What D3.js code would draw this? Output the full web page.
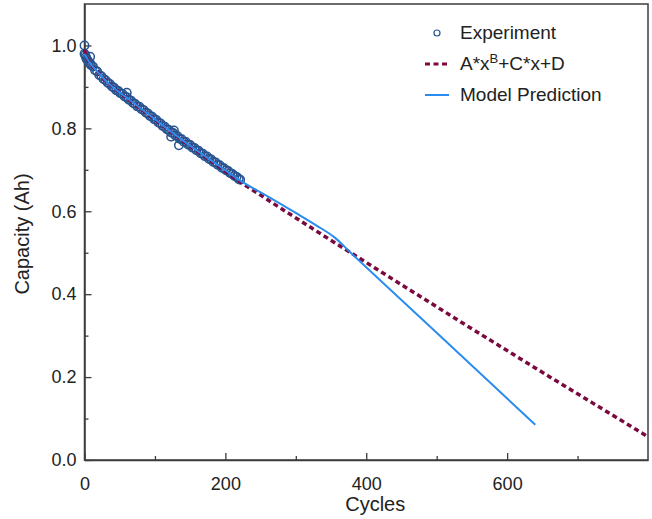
<!DOCTYPE html>
<html>
<head>
<meta charset="utf-8">
<script src="https://cdn.jsdelivr.net/npm/d3@7"></script>
<style>
  body { margin: 0; background: #fff; }
  svg { display: block; font-family: "Liberation Sans", Arial, sans-serif; }
</style>
</head>
<body>
<svg id="chart"></svg>
<script>
const width = 652, height = 519;

// experiment points (cycle, capacity)
const expCycles = [
    0, 0, 1, 2, 3, 4, 6, 8, 8, 9,
    12, 15, 18, 21, 24, 27, 30, 33, 36, 39,
    42, 45, 48, 51, 54, 57, 60, 60, 63, 66,
    69, 72, 75, 78, 81, 84, 87, 90, 93, 96,
    99, 102, 105, 108, 111, 114, 117, 120, 123, 123,
    126, 127, 129, 132, 134, 135, 138, 141, 144, 147,
    150, 153, 156, 159, 162, 165, 168, 171, 174, 177,
    180, 183, 186, 189, 192, 195, 198, 201, 204, 207,
    210, 213, 216, 219, 221];
const expCapacity = [
    1.000, 0.980, 0.977, 0.972, 0.968, 0.965, 0.960, 0.973, 0.957, 0.953,
    0.949, 0.940, 0.937, 0.929, 0.926, 0.919, 0.916, 0.910, 0.907, 0.901,
    0.898, 0.892, 0.890, 0.885, 0.883, 0.877, 0.886, 0.875, 0.869, 0.867,
    0.861, 0.859, 0.853, 0.852, 0.846, 0.844, 0.838, 0.836, 0.830, 0.828,
    0.822, 0.820, 0.814, 0.812, 0.806, 0.804, 0.798, 0.796, 0.780, 0.790,
    0.789, 0.795, 0.783, 0.781, 0.759, 0.775, 0.774, 0.768, 0.767, 0.761,
    0.760, 0.754, 0.753, 0.747, 0.746, 0.740, 0.739, 0.733, 0.732, 0.726,
    0.725, 0.719, 0.718, 0.712, 0.711, 0.705, 0.704, 0.699, 0.697, 0.692,
    0.690, 0.685, 0.683, 0.678, 0.676];

// fitted curve A*x^B+C*x+D
const fitCycles = [0, 2, 5, 10, 20, 40, 60, 80, 100, 130, 160, 190, 220,
    250, 277, 300, 348, 377, 420, 480, 540, 600, 660, 720, 800];
const fitCapacity = [0.99, 0.976, 0.965, 0.953, 0.933, 0.900, 0.873, 0.847, 0.821, 0.782, 0.745, 0.709, 0.672,
    0.639, 0.609, 0.584, 0.532, 0.501, 0.455, 0.391, 0.327, 0.264, 0.201, 0.139, 0.056];

// model prediction
const modelCycles = [0, 2, 5, 10, 20, 40, 60, 80, 100, 130, 160, 190, 220,
    260, 300, 330, 355, 378, 500, 640];
const modelCapacity = [0.98, 0.973, 0.965, 0.953, 0.933, 0.900, 0.874, 0.848, 0.822, 0.783, 0.746, 0.711, 0.675,
    0.636, 0.596, 0.565, 0.537, 0.500, 0.307, 0.085];

const xMajor = [0, 200, 400, 600];
const xMinor = [100, 300, 500, 700];
const yMajor = [0, 0.2, 0.4, 0.6, 0.8, 1.0];
const yMinor = [0.1, 0.3, 0.5, 0.7, 0.9];

const margin = {top: 4, right: 4, bottom: 59, left: 84.5};
const x = d3.scaleLinear().domain([0, 800]).range([margin.left, width - margin.right]);
const y = d3.scaleLinear().domain([0, 1.1]).range([height - margin.bottom, margin.top]);

const axisColor = "#3c3c3c";
const svg = d3.select("#chart").attr("width", width).attr("height", height);

// frame
svg.append("rect")
    .attr("x", x(0)).attr("y", y(1.1))
    .attr("width", x(800) - x(0)).attr("height", y(0) - y(1.1))
    .attr("fill", "none").attr("stroke", axisColor).attr("stroke-width", 1.5);

// minor ticks
svg.append("g")
    .attr("transform", "translate(0," + y(0) + ")")
    .call(d3.axisBottom(x).tickValues(xMinor).tickSizeInner(-4).tickSizeOuter(0).tickFormat(""))
    .call(g => g.select(".domain").remove());
svg.append("g")
    .attr("transform", "translate(" + x(0) + ",0)")
    .call(d3.axisLeft(y).tickValues(yMinor).tickSizeInner(-4).tickSizeOuter(0).tickFormat(""))
    .call(g => g.select(".domain").remove());

// major axes
svg.append("g")
    .attr("transform", "translate(0," + y(0) + ")")
    .call(d3.axisBottom(x).tickValues(xMajor).tickSizeInner(-7).tickSizeOuter(0).tickPadding(17));
svg.append("g")
    .attr("transform", "translate(" + x(0) + ",0)")
    .call(d3.axisLeft(y).tickValues(yMajor).tickSizeInner(-7).tickSizeOuter(0).tickPadding(8)
        .tickFormat(d3.format(".1f")));

svg.selectAll(".tick line").attr("stroke", axisColor).attr("stroke-width", 1.3);
svg.selectAll(".domain").attr("stroke", axisColor).attr("stroke-width", 1.5);
svg.selectAll(".tick text")
    .attr("fill", "#222")
    .style("font-size", "18px")
    .style("font-family", "'Liberation Sans', Arial, sans-serif");

// axis titles
svg.append("text")
    .attr("x", x(400) + 9).attr("y", 511)
    .attr("text-anchor", "middle")
    .attr("fill", "#222")
    .style("font-size", "20px")
    .text("Cycles");
svg.append("text")
    .attr("transform", "translate(29," + 234 + ") rotate(-90)")
    .attr("text-anchor", "middle")
    .attr("fill", "#222")
    .style("font-size", "20px")
    .text("Capacity (Ah)");

// experiment points
const expColor = "#27538f";
svg.append("g")
    .selectAll("circle")
    .data(expCycles.map((c, i) => ({c: c, v: expCapacity[i]})))
    .enter().append("circle")
    .attr("cx", d => x(d.c))
    .attr("cy", d => y(d.v))
    .attr("r", 4.2)
    .attr("fill", "none")
    .attr("stroke", expColor)
    .attr("stroke-width", 1.5);

const fitColor = "#7a0a3e";
const modelColor = "#2b8cf0";

const fitLine = d3.line()
    .x((d, i) => x(fitCycles[i]))
    .y(d => y(d))
    .curve(d3.curveMonotoneX);
svg.append("path")
    .attr("d", fitLine(fitCapacity))
    .attr("fill", "none")
    .attr("stroke", fitColor)
    .attr("stroke-width", 3.5)
    .attr("stroke-dasharray", "5,3.5");

const modelLine = d3.line()
    .x((d, i) => x(modelCycles[i]))
    .y(d => y(d))
    .curve(d3.curveMonotoneX);
svg.append("path")
    .attr("d", modelLine(modelCapacity))
    .attr("fill", "none")
    .attr("stroke", modelColor)
    .attr("stroke-width", 2);

// legend
const legend = svg.append("g").style("font-size", "19px").attr("fill", "#222");
legend.append("circle")
    .attr("cx", 437).attr("cy", 33).attr("r", 3)
    .attr("fill", "none").attr("stroke", expColor).attr("stroke-width", 1.2);
legend.append("text").attr("x", 460).attr("y", 39).text("Experiment");

legend.append("line")
    .attr("x1", 425).attr("x2", 449).attr("y1", 64).attr("y2", 64)
    .attr("stroke", fitColor).attr("stroke-width", 3).attr("stroke-dasharray", "5,3.5");
const fitText = legend.append("text").attr("x", 460).attr("y", 70);
fitText.append("tspan").text("A*x");
fitText.append("tspan").attr("dy", -7).style("font-size", "13px").text("B");
fitText.append("tspan").attr("dy", 7).text("+C*x+D");

legend.append("line")
    .attr("x1", 425).attr("x2", 449).attr("y1", 95).attr("y2", 95)
    .attr("stroke", modelColor).attr("stroke-width", 2);
legend.append("text").attr("x", 460).attr("y", 101).text("Model Prediction");
</script>
</body>
</html>
